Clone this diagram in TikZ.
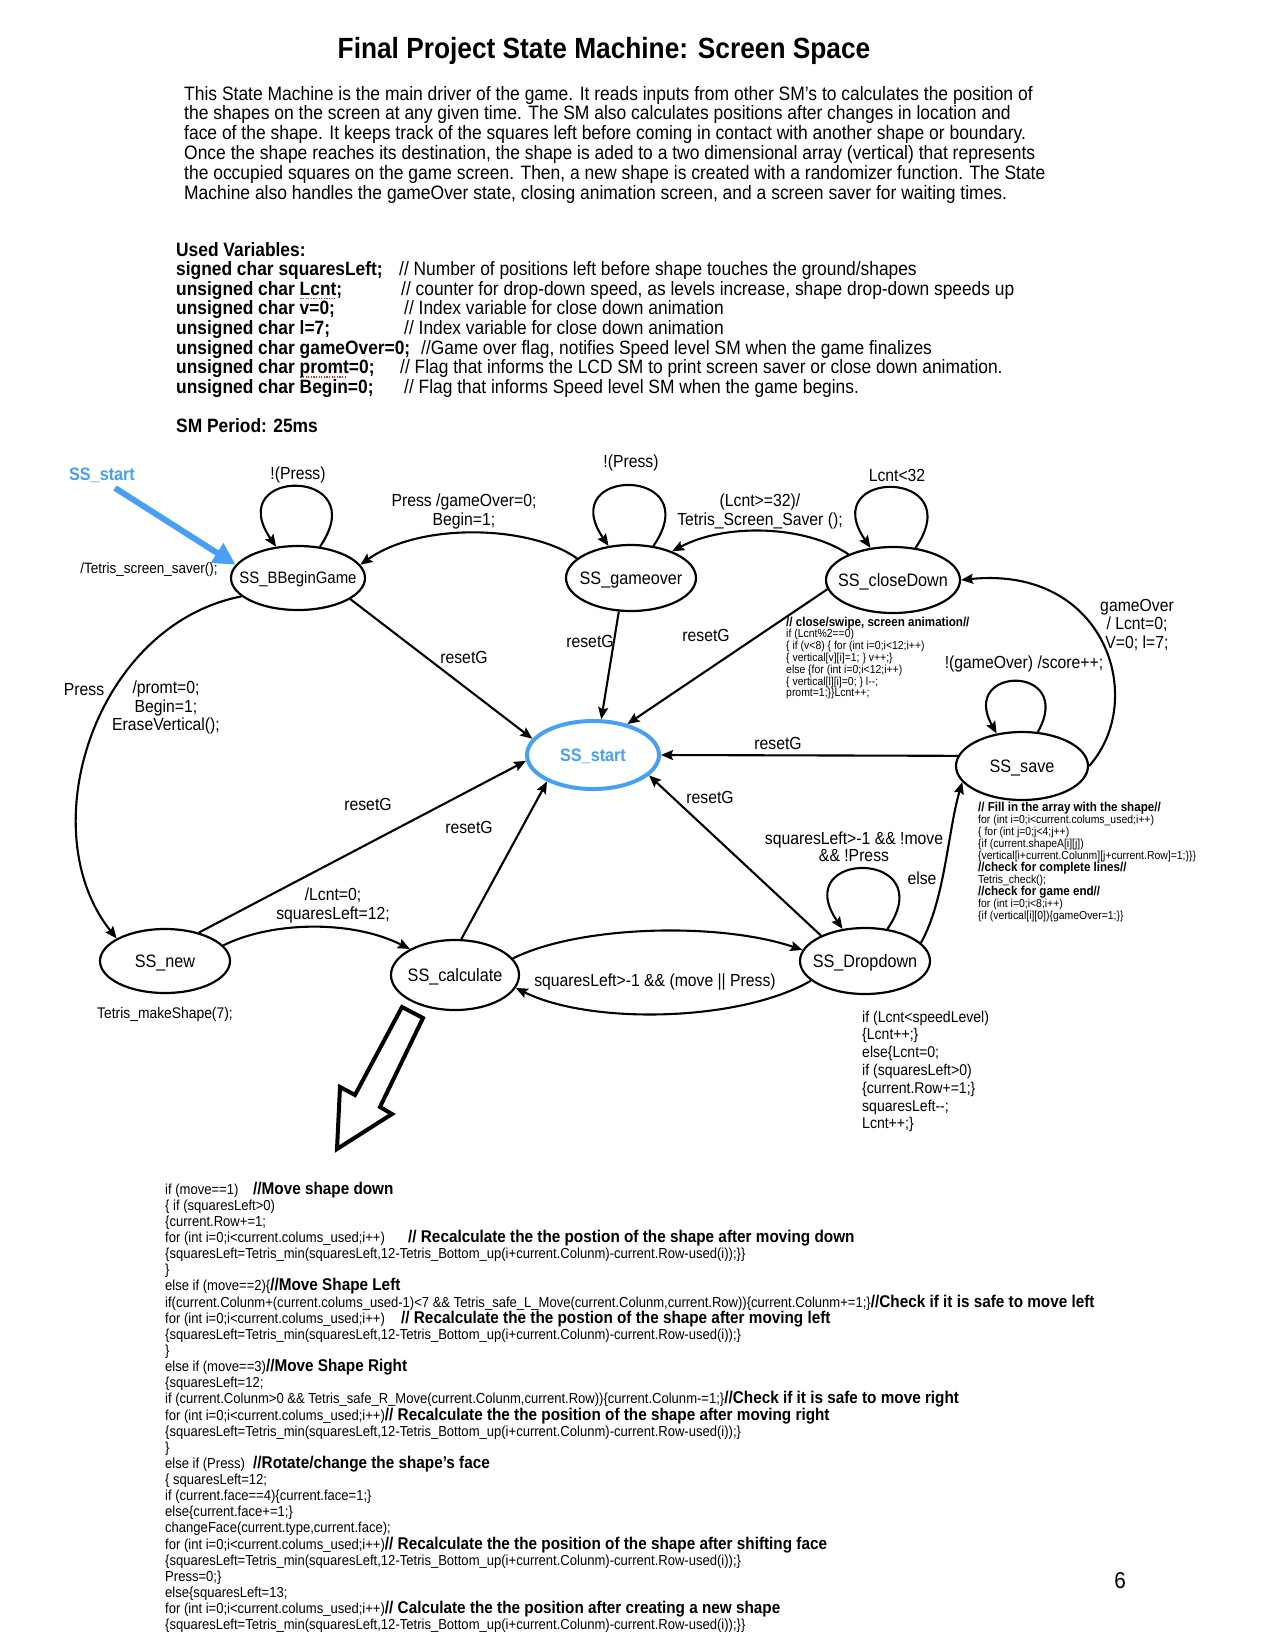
\documentclass[tikz,border=0pt]{standalone}
\usepackage{fontspec}
\setmainfont{Liberation Sans}[FakeStretch=0.9]
\usetikzlibrary{arrows.meta,shapes.geometric}
\definecolor{ssblue}{RGB}{72,160,245}
\definecolor{squigred}{RGB}{215,40,40}
\newcommand\setfs[2]{\fontsize{#1}{#2}\selectfont}
\newcommand\cbold[1]{{\fontsize{17}{17}\selectfont\bfseries #1}}
\newcommand\sbold[1]{{\fontsize{12.9}{12.9}\selectfont\bfseries #1}}
\newcommand\ctext[1]{\makebox[0pt]{\raisebox{-0.36em}[0pt][0pt]{#1}}}
\newsavebox\sqbox
\newcommand\squig[1]{\sbox\sqbox{#1}\rlap{\raisebox{-4pt}[0pt][0pt]{\color{squigred}\leaders\hbox to 2.6pt{\hss\rule{1.3pt}{1.3pt}\hss}\hskip\wd\sqbox}}\usebox\sqbox}
\begin{document}
\begin{tikzpicture}[x=1pt,y=-1pt,
  stnode/.style={draw, ellipse, line width=2.2pt, inner sep=0pt, font=\setfs{18}{18}},
  edgearrow/.style={line width=2.1pt, -{Stealth[length=12pt,width=10pt,inset=2pt]}},
  lbl/.style={inner sep=0pt, align=center, font=\setfs{17.5}{19}},
  pl/.style={anchor=base west, inner sep=0pt, font=\setfs{19.4}{19.4}},
  vb/.style={anchor=base west, inner sep=0pt, font=\setfs{19.3}{19.3}\bfseries},
  vc/.style={anchor=base west, inner sep=0pt, font=\setfs{19.3}{19.3}},
  cl/.style={anchor=base west, inner sep=0pt, font=\setfs{14.5}{14.5}},
  cs/.style={anchor=base west, inner sep=0pt, font=\setfs{11.6}{11.6}},
  cd/.style={anchor=base west, inner sep=0pt, font=\setfs{15.6}{15.6}},
]
\useasboundingbox[fill=white] (0,0) rectangle (1262,1650);

% ---------- title and description ----------
\node[anchor=base, inner sep=0pt, font=\setfs{29.2}{29.2}\bfseries] (title) at (604,58) {Final Project State Machine: Screen Space};
\node[pl] (p1) at (184,100) {This State Machine is the main driver of the game. It reads inputs from other SM's to calculates the position of};
\node[pl] (p2) at (184,119.8) {the shapes on the screen at any given time. The SM also calculates positions after changes in location and};
\node[pl] (p3) at (184,139.6) {face of the shape. It keeps track of the squares left before coming in contact with another shape or boundary.};
\node[pl] (p4) at (184,159.4) {Once the shape reaches its destination, the shape is aded to a two dimensional array (vertical) that represents};
\node[pl] (p5) at (184,179.2) {the occupied squares on the game screen. Then, a new shape is created with a randomizer function. The State};
\node[pl] (p6) at (184,199) {Machine also handles the gameOver state, closing animation screen, and a screen saver for waiting times.};

% ---------- variables ----------
\node[vb] (v0) at (176,256) {Used Variables:};
\node[vb] (v1) at (176,275.6) {signed char squaresLeft;};
\node[vc] (c1) at (399,275.6) {// Number of positions left before shape touches the ground/shapes};
\node[vb] (v2) at (176,295.2) {unsigned char \squig{Lcnt};};
\node[vc] (c2) at (401,295.2) {// counter for drop-down speed, as levels increase, shape drop-down speeds up};
\node[vb] (v3) at (176,314.8) {unsigned char v=0;};
\node[vc] (c3) at (404,314.8) {// Index variable for close down animation};
\node[vb] (v4) at (176,334.4) {unsigned char l=7;};
\node[vc] (c4) at (404,334.4) {// Index variable for close down animation};
\node[vb] (v5) at (176,354) {unsigned char gameOver=0;};
\node[vc] (c5) at (421,354) {//Game over flag, notifies Speed level SM when the game finalizes};
\node[vb] (v6) at (176,373.6) {unsigned char \squig{promt}=0;};
\node[vc] (c6) at (400,373.6) {// Flag that informs the LCD SM to print screen saver or close down animation.};
\node[vb] (v7) at (176,393.2) {unsigned char Begin=0;};
\node[vc] (c7) at (404,393.2) {// Flag that informs Speed level SM when the game begins.};
\node[vb] (sm) at (176,432) {SM Period: 25ms};

% ---------- states ----------
\node[stnode, minimum width=134pt, minimum height=64pt, font=\setfs{16.6}{16.6}] (BB) at (298,578) {\ctext{SS\_BBeginGame}};
\node[stnode, minimum width=130pt, minimum height=66pt] (GO) at (631,578) {\ctext{SS\_gameover}};
\node[stnode, minimum width=134pt, minimum height=66pt] (CD) at (893,580) {\ctext{SS\_closeDown}};
\node[stnode, draw=ssblue, line width=4pt, text=ssblue, font=\setfs{18}{18}\bfseries, minimum width=132pt, minimum height=68pt] (ST) at (593,755) {\ctext{SS\_start}};
\node[stnode, minimum width=132pt, minimum height=68pt] (SV) at (1022,766) {\ctext{SS\_save}};
\node[stnode, minimum width=130pt, minimum height=64pt] (NW) at (165,961) {\ctext{SS\_new}};
\node[stnode, minimum width=128pt, minimum height=70pt] (CA) at (455,975) {\ctext{SS\_calculate}};
\node[stnode, minimum width=130pt, minimum height=66pt] (DD) at (865,961) {\ctext{SS\_Dropdown}};

% ---------- initial arrow ----------
\node[lbl, text=ssblue, font=\setfs{18}{18}\bfseries] (linit) at (102,475) {SS\_start};
\coordinate (init) at (115,488);
\draw[line width=6pt, ssblue, -{Triangle[length=22pt,width=22pt]}] (init) -- (BB.168);

% ---------- self loops ----------
\draw[edgearrow] (BB.55) .. controls +(55,-80) and +(-55,-80) .. (BB.125);
\draw[edgearrow] (GO.55) .. controls +(55,-80) and +(-55,-80) .. (GO.125);
\draw[edgearrow] (CD.55) .. controls +(55,-80) and +(-55,-80) .. (CD.125);
\draw[edgearrow] (DD.55) .. controls +(55,-80) and +(-55,-80) .. (DD.125);
\draw[edgearrow] (SV.65) .. controls +(38,-68) and +(-38,-68) .. (SV.128);

% ---------- transitions ----------
\draw[edgearrow] (GO.160) .. controls (530,525) and (420,522) .. (BB.12);
\draw[edgearrow] (CD.150) .. controls (805,525) and (725,523) .. (GO.33);
\draw[edgearrow] (BB.198) .. controls (95,625) and (30,830) .. (NW.155);
\draw[edgearrow] (BB.-22) -- (ST.165);
\draw[edgearrow] (GO.-110) -- (ST.77);
\draw[edgearrow] (CD.-172) -- (ST.42);
\draw[edgearrow] (SV.171) -- (ST.east);
\draw[edgearrow] (DD.150) -- (ST.-20);
\draw[edgearrow] (NW.40) -- (ST.185);
\draw[edgearrow] (CA.80) -- (ST.210);
\draw[edgearrow] (NW.15) .. controls (270,922) and (350,919) .. (CA.150);
\draw[edgearrow] (CA.16) .. controls (580,925) and (720,922) .. (DD.170);
\draw[edgearrow] (DD.200) .. controls (740,1022) and (590,1025) .. (CA.-12);
\draw[edgearrow] (DD.18) .. controls (945,900) and (948,830) .. (SV.-165);
\draw[edgearrow] (SV.east) .. controls (1148,700) and (1106,565) .. (CD.east);

% ---------- labels ----------
\node[lbl] (lp1) at (298,475) {!(Press)};
\node[lbl] (lp2) at (631,463) {!(Press)};
\node[lbl] (llc) at (897,475) {Lcnt<32};
\node[lbl] (lgo) at (464,511.5) {Press /gameOver=0;\\Begin=1;};
\node[lbl] (lss) at (760,511.5) {(Lcnt>=32)/\\Tetris\_Screen\_Saver ();};
\node[lbl, font=\setfs{15}{15}] (lsv) at (149,570) {/Tetris\_screen\_saver();};
\node[lbl] (r1) at (464,657) {resetG};
\node[lbl] (r2) at (590,641) {resetG};
\node[lbl] (r3) at (706,635) {resetG};
\node[lbl] (r4) at (778,743) {resetG};
\node[lbl] (r5) at (710,797) {resetG};
\node[lbl] (r6) at (368,804) {resetG};
\node[lbl] (r7) at (469,827) {resetG};
\node[lbl] (lpress) at (84,690) {Press};
\node[lbl, font=\setfs{17.5}{18.5}] (lpromt) at (166,707.5) {/promt=0;\\Begin=1;\\EraseVertical();};
\node[lbl] (llcnt) at (333,905) {/Lcnt=0;\\squaresLeft=12;};
\node[lbl] (lmv) at (655,982) {squaresLeft>-1 \&\& (move || Press)};
\node[lbl, font=\setfs{17.5}{17}] (lnm) at (854,846.5) {squaresLeft>-1 \&\& !move\\\&\& !Press};
\node[lbl] (lelse) at (922,878) {else};
\node[lbl] (lscore) at (1024,664) {!(gameOver) /score++;};
\node[lbl, font=\setfs{17.5}{18.5}] (lgov) at (1137,624.5) {gameOver\\/ Lcnt=0;\\V=0; l=7;};
\node[lbl, font=\setfs{15.4}{15.4}] (lmk) at (165,1015) {Tetris\_makeShape(7);};

% ---------- closeDown code ----------
\node[cs] (k0) at (786,626) {\sbold{// close/swipe, screen animation//}};
\node[cs] (k1) at (786,637.8) {if (Lcnt\%2==0)};
\node[cs] (k2) at (786,649.6) {\{ if (v<8) \{ for (int i=0;i<12;i++)};
\node[cs] (k3) at (786,661.4) {\{ vertical[v][i]=1; \} v++;\}};
\node[cs] (k4) at (786,673.2) {else \{for (int i=0;i<12;i++)};
\node[cs] (k5) at (786,685) {\{ vertical[l][i]=0; \} l-{}-;};
\node[cs] (k6) at (786,696.8) {promt=1;\}\}Lcnt++;};

% ---------- save code ----------
\node[cs] (s0) at (978,811) {\sbold{// Fill in the array with the shape//}};
\node[cs] (s1) at (978,823.1) {for (int i=0;i<current.colums\_used;i++)};
\node[cs] (s2) at (978,835.2) {\{ for (int j=0;j<4;j++)};
\node[cs] (s3) at (978,847.3) {\{if (current.shapeA[i][j])};
\node[cs] (s4) at (978,859.4) {\{vertical[i+current.Colunm][j+current.Row]=1;\}\}\}};
\node[cs] (s5) at (978,871.5) {\sbold{//check for complete lines//}};
\node[cs] (s6) at (978,883.6) {Tetris\_check();};
\node[cs] (s7) at (978,895.7) {\sbold{//check for game end//}};
\node[cs] (s8) at (978,907.8) {for (int i=0;i<8;i++)};
\node[cs] (s9) at (978,919.9) {\{if (vertical[i][0])\{gameOver=1;\}\}};

% ---------- dropdown code ----------
\node[cd] (d1) at (862,1022) {if (Lcnt<speedLevel)};
\node[cd] (d2) at (862,1039.8) {\{Lcnt++;\}};
\node[cd] (d3) at (862,1057.6) {else\{Lcnt=0;};
\node[cd] (d4) at (862,1075.4) {if (squaresLeft>0)};
\node[cd] (d5) at (862,1093.2) {\{current.Row+=1;\}};
\node[cd] (d6) at (862,1111) {squaresLeft-{}-;};
\node[cd] (d7) at (862,1128.8) {Lcnt++;\}};

% ---------- block arrow ----------
\draw[line width=4pt, line join=miter, fill=white] (402,1007) -- (423,1018) -- (380,1107) -- (392,1114) -- (337,1149) -- (340,1087) -- (355,1095) -- cycle;

% ---------- calculate code ----------
\node[cl] (b1) at (165,1194) {if (move==1)};
\node[cl] (b1c) at (253,1194) {\cbold{//Move shape down}};
\node[cl] (b2) at (165,1210.1) {\{ if (squaresLeft>0)};
\node[cl] (b3) at (165,1226.3) {\{current.Row+=1;};
\node[cl] (b4) at (165,1242.4) {for (int i=0;i<current.colums\_used;i++)};
\node[cl] (b4c) at (408,1242.4) {\cbold{// Recalculate the the postion of the shape after moving down}};
\node[cl] (b5) at (165,1258.6) {\{squaresLeft=Tetris\_min(squaresLeft,12-Tetris\_Bottom\_up(i+current.Colunm)-current.Row-used(i));\}\}};
\node[cl] (b6) at (165,1274.7) {\}};
\node[cl] (b7) at (165,1290.8) {else if (move==2)\{\cbold{//Move Shape Left}};
\node[cl] (b8) at (165,1307) {if(current.Colunm+(current.colums\_used-1)<7 \&\& Tetris\_safe\_L\_Move(current.Colunm,current.Row))\{current.Colunm+=1;\}\cbold{//Check if it is safe to move left}};
\node[cl] (b9) at (165,1323.1) {for (int i=0;i<current.colums\_used;i++)};
\node[cl] (b9c) at (401,1323.1) {\cbold{// Recalculate the the postion of the shape after moving left}};
\node[cl] (b10) at (165,1339.3) {\{squaresLeft=Tetris\_min(squaresLeft,12-Tetris\_Bottom\_up(i+current.Colunm)-current.Row-used(i));\}};
\node[cl] (b11) at (165,1355.4) {\}};
\node[cl] (b12) at (165,1371.5) {else if (move==3)\cbold{//Move Shape Right}};
\node[cl] (b13) at (165,1387.7) {\{squaresLeft=12;};
\node[cl] (b14) at (165,1403.8) {if (current.Colunm>0 \&\& Tetris\_safe\_R\_Move(current.Colunm,current.Row))\{current.Colunm-=1;\}\cbold{//Check if it is safe to move right}};
\node[cl] (b15) at (165,1420) {for (int i=0;i<current.colums\_used;i++)\cbold{// Recalculate the the position of the shape after moving right}};
\node[cl] (b16) at (165,1436.1) {\{squaresLeft=Tetris\_min(squaresLeft,12-Tetris\_Bottom\_up(i+current.Colunm)-current.Row-used(i));\}};
\node[cl] (b17) at (165,1452.2) {\}};
\node[cl] (b18) at (165,1468.4) {else if (Press)};
\node[cl] (b18c) at (253,1468.4) {\cbold{//Rotate/change the shape's face}};
\node[cl] (b19) at (165,1484.5) {\{ squaresLeft=12;};
\node[cl] (b20) at (165,1500.7) {if (current.face==4)\{current.face=1;\}};
\node[cl] (b21) at (165,1516.8) {else\{current.face+=1;\}};
\node[cl] (b22) at (165,1532.9) {changeFace(current.type,current.face);};
\node[cl] (b23) at (165,1549.1) {for (int i=0;i<current.colums\_used;i++)\cbold{// Recalculate the the position of the shape after shifting face}};
\node[cl] (b24) at (165,1565.2) {\{squaresLeft=Tetris\_min(squaresLeft,12-Tetris\_Bottom\_up(i+current.Colunm)-current.Row-used(i));\}};
\node[cl] (b25) at (165,1581.4) {Press=0;\}};
\node[cl] (b26) at (165,1597.5) {else\{squaresLeft=13;};
\node[cl] (b27) at (165,1613.6) {for (int i=0;i<current.colums\_used;i++)\cbold{// Calculate the the position after creating a new shape}};
\node[cl] (b28) at (165,1629.8) {\{squaresLeft=Tetris\_min(squaresLeft,12-Tetris\_Bottom\_up(i+current.Colunm)-current.Row-used(i));\}\}};

% ---------- page number ----------
\node[inner sep=0pt, font=\setfs{23}{23}] (pg) at (1120,1581) {6};
\end{tikzpicture}
\end{document}
